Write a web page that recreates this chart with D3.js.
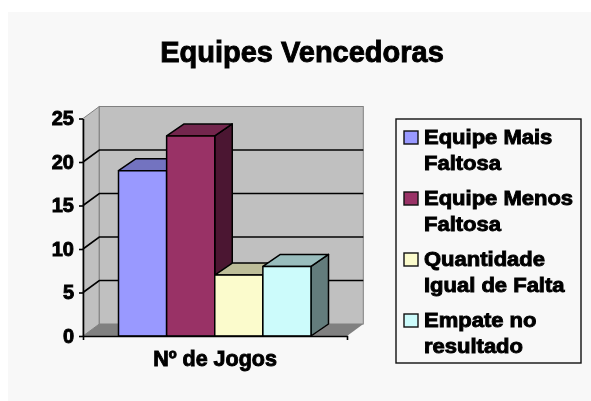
<!DOCTYPE html>
<html>
<head>
<meta charset="utf-8">
<script src="https://cdn.jsdelivr.net/npm/d3@7"></script>
<style>
  body { margin: 0; background: #fff; }
  text { font-family: "Liberation Sans", Arial, sans-serif; font-weight: bold; fill: #000; stroke: #000; stroke-width: 0.9px; }
</style>
</head>
<body>
<svg id="chart"></svg>
<script>
const WIDTH = 591,
    HEIGHT = 401;

const titulo = "Equipes Vencedoras";
const eixoX = "Nº de Jogos";
const categorias = ["Equipe Mais Faltosa", "Equipe Menos Faltosa", "Quantidade Igual de Falta", "Empate no resultado"];
const linhasLegenda = [["Equipe Mais", "Faltosa"], ["Equipe Menos", "Faltosa"], ["Quantidade", "Igual de Falta"], ["Empate no", "resultado"]];
const valores = [19, 23, 7, 8];
const cores = ["#9999ff", "#993366", "#fbfbcc", "#ccfbfb"];
const ticks = [0, 5, 10, 15, 20, 25];

const plot = { left: 83, right: 347, top: 118.5, bottom: 336 };
const fundo = { dx: 16.3, dy: 12 };
const barra = { dx: 17.5, dy: 12 };

const svg = d3.select("#chart")
    .attr("width", WIDTH)
    .attr("height", HEIGHT);

// deixa tudo meio borrado como no jpeg original
svg.append("filter")
    .attr("id", "blur")
    .append("feGaussianBlur")
    .attr("stdDeviation", 0.6);

const g = svg.append("g").attr("filter", "url(#blur)");

g.append("rect")
    .attr("x", 8).attr("y", 12)
    .attr("width", WIDTH - 8).attr("height", HEIGHT - 12)
    .attr("fill", "#f8f8f8");

const escalaY = d3.scaleLinear().domain([0, 25]).range([plot.bottom, plot.top]);
const escalaX = d3.scaleBand().domain(categorias).range([118.5, 311]);

const poly = pts => pts.map(p => p.join(",")).join(" ");

// paredes e chao
g.append("polygon")
    .attr("points", poly([
        [plot.left, plot.top], [plot.left + fundo.dx, plot.top - fundo.dy],
        [plot.left + fundo.dx, plot.bottom - fundo.dy], [plot.left, plot.bottom]
    ]))
    .attr("fill", "#c0c0c0")
    .attr("stroke", "#808080");

g.append("rect")
    .attr("x", plot.left + fundo.dx)
    .attr("y", plot.top - fundo.dy)
    .attr("width", plot.right - plot.left)
    .attr("height", plot.bottom - plot.top)
    .attr("fill", "#c0c0c0")
    .attr("stroke", "#808080");

g.append("polygon")
    .attr("points", poly([
        [plot.left, plot.bottom], [plot.left + fundo.dx, plot.bottom - fundo.dy],
        [plot.right + fundo.dx, plot.bottom - fundo.dy], [plot.right, plot.bottom]
    ]))
    .attr("fill", "#808080");

// grades
g.append("g")
    .selectAll("polyline")
    .data(ticks.filter(d => d > 0 && d < 25))
    .join("polyline")
    .attr("points", d => poly([
        [plot.left, escalaY(d)], [plot.left + fundo.dx, escalaY(d) - fundo.dy],
        [plot.right + fundo.dx, escalaY(d) - fundo.dy]
    ]))
    .attr("fill", "none")
    .attr("stroke", "#000")
    .attr("stroke-width", 1.6);

// barras
const barras = g.append("g")
    .selectAll("g")
    .data(categorias.map((c, i) => ({ categoria: c, valor: valores[i], cor: cores[i] })))
    .join("g")
    .attr("stroke", "#000")
    .attr("stroke-width", 1.5)
    .attr("stroke-linejoin", "round");

barras.append("polygon")
    .attr("points", d => {
        const x1 = escalaX(d.categoria) + escalaX.bandwidth(), y = escalaY(d.valor);
        return poly([[x1, y], [x1 + barra.dx, y - barra.dy], [x1 + barra.dx, plot.bottom - barra.dy], [x1, plot.bottom]]);
    })
    .attr("fill", d => d3.rgb(d.cor).darker(2).formatHex());

barras.append("polygon")
    .attr("points", d => {
        const x0 = escalaX(d.categoria), x1 = x0 + escalaX.bandwidth(), y = escalaY(d.valor);
        return poly([[x0, y], [x0 + barra.dx, y - barra.dy], [x1 + barra.dx, y - barra.dy], [x1, y]]);
    })
    .attr("fill", d => d3.rgb(d.cor).darker(0.8).formatHex());

barras.append("rect")
    .attr("x", d => escalaX(d.categoria))
    .attr("y", d => escalaY(d.valor))
    .attr("width", escalaX.bandwidth())
    .attr("height", d => plot.bottom - escalaY(d.valor))
    .attr("fill", d => d.cor);

// eixos
const eixoEsq = g.append("g")
    .attr("transform", `translate(${plot.left},0)`)
    .call(d3.axisLeft(escalaY).tickValues(ticks).tickSize(4).tickSizeOuter(0).tickPadding(5));
eixoEsq.selectAll("text").style("font-size", "20px");
eixoEsq.selectAll("line, path").attr("stroke", "#000").attr("stroke-width", 1.6);

const escalaBase = d3.scaleBand().domain([eixoX]).range([plot.left, plot.right]);
const eixoBase = g.append("g")
    .attr("transform", `translate(0,${plot.bottom})`)
    .call(d3.axisBottom(escalaBase).tickSize(0).tickSizeOuter(4).tickPadding(15));
eixoBase.selectAll("text")
    .style("font-size", "21.5px");
eixoBase.selectAll("line, path").attr("stroke", "#000").attr("stroke-width", 1.6);

// titulo
g.append("text")
    .attr("x", 302)
    .attr("y", 62)
    .attr("text-anchor", "middle")
    .style("font-size", "29px")
    .text(titulo);

// legenda
g.append("rect")
    .attr("x", 396).attr("y", 119)
    .attr("width", 185).attr("height", 244)
    .attr("fill", "none")
    .attr("stroke", "#111")
    .attr("stroke-width", 1.4);

const escalaLegenda = d3.scaleBand().domain(categorias).range([124, 368]);

const itens = g.append("g")
    .selectAll("g")
    .data(categorias)
    .join("g")
    .attr("transform", d => `translate(404,${escalaLegenda(d)})`);

itens.append("rect")
    .attr("y", 7)
    .attr("width", 14).attr("height", 13)
    .attr("fill", (d, i) => cores[i])
    .attr("stroke", "#111")
    .attr("stroke-width", 1.4);

itens.selectAll("text")
    .data((d, i) => linhasLegenda[i])
    .join("text")
    .attr("transform", (d, i) => `translate(20,${20 + i * 26}) scale(1.1,1)`)
    .style("font-size", "20px")
    .text(d => d);
</script>
</body>
</html>
